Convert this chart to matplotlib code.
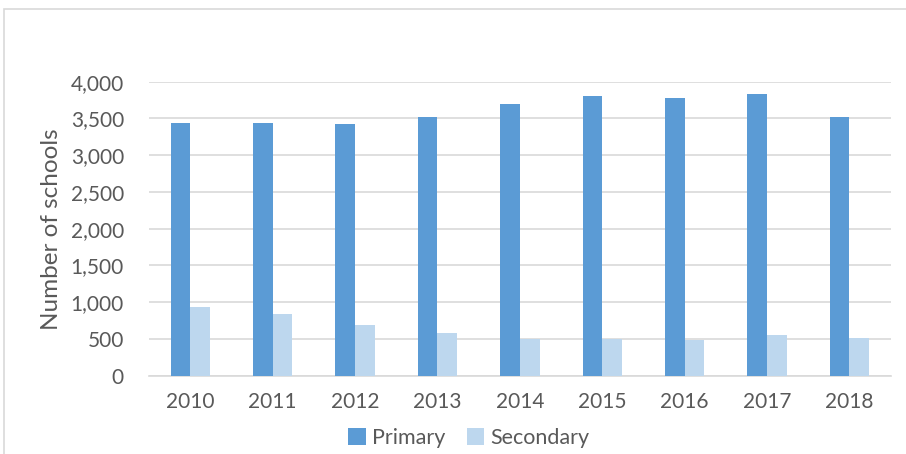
import matplotlib.pyplot as plt
import numpy as np
from matplotlib.patches import Rectangle

years = ['2010', '2011', '2012', '2013', '2014', '2015', '2016', '2017', '2018']
primary = [3442, 3440, 3420, 3515, 3697, 3805, 3778, 3828, 3520]
secondary = [932, 837, 687, 583, 497, 497, 488, 547, 512]

plt.rcParams['font.family'] = ['Lato', 'DejaVu Sans']
text_col = '#595959'

W, H = 906, 454
fig = plt.figure(figsize=(W / 100, H / 100), dpi=100)

# chart frame (cut off at right/bottom like the source)
fig.patches.append(Rectangle((4 / W, -0.1), 1.2, 1 - 9 / H + 0.1, transform=fig.transFigure,
                             fill=False, edgecolor='#D9D9D9', linewidth=1.2))

x0, x1 = 149, 890.7
ytop, ybot = 81.7, 375.7
ax = fig.add_axes([x0 / W, 1 - ybot / H, (x1 - x0) / W, (ybot - ytop) / H])

x = np.arange(len(years))
bw = 0.239
ax.bar(x - bw / 2, primary, bw, color='#5B9BD5', label='Primary', zorder=3)
ax.bar(x + bw / 2, secondary, bw, color='#BDD7EE', label='Secondary', zorder=3)

ax.set_xlim(-0.5, len(years) - 0.5)
ax.set_ylim(0, 4000)
ax.set_yticks(np.arange(0, 4001, 500))
ax.set_yticklabels([f'{v:,}' for v in range(0, 4001, 500)])
ax.set_xticks(x)
ax.set_xticklabels(years)
ax.yaxis.grid(True, color='#D9D9D9', linewidth=1.2, zorder=0)
ax.set_axisbelow(True)
for s in ['top', 'right', 'left']:
    ax.spines[s].set_visible(False)
ax.spines['bottom'].set_color('#D9D9D9')
ax.spines['bottom'].set_linewidth(1.2)
ax.tick_params(axis='both', length=0, colors=text_col, labelsize=15)
ax.tick_params(axis='y', pad=18)
ax.tick_params(axis='x', pad=12)
ax.set_ylabel('Number of schools', fontsize=17.5, color=text_col, labelpad=6)

fig.legend(loc='center', bbox_to_anchor=(469 / W, 1 - 438 / H), ncol=2, frameon=False,
           fontsize=15.5, labelcolor=text_col, handlelength=0.8, handleheight=0.85,
           handletextpad=0.3, columnspacing=1.0, borderaxespad=0)

fig.savefig('out.png', dpi=100)
